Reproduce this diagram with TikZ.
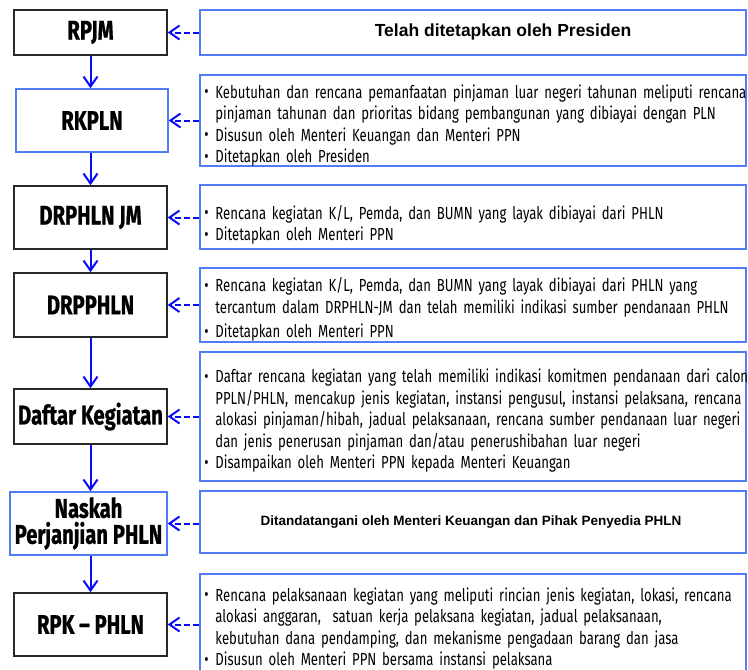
\documentclass[tikz,border=0pt]{standalone}
\usepackage{fontspec}
\setmainfont{Liberation Sans}
\newfontfamily\agf[FakeStretch=0.75,BoldFeatures={FakeBold=0.8}]{Fira Sans}
\usetikzlibrary{arrows.meta}
\definecolor{arrblue}{RGB}{10,10,250}
\definecolor{boxblue}{RGB}{80,125,245}
\definecolor{boxblack}{RGB}{40,40,40}
\newcommand\bitem[1]{\par\noindent\hangindent=11pt\hangafter=1\makebox[11pt][l]{\raisebox{0.5pt}{\textbullet}}#1}
\begin{document}
\begin{tikzpicture}[x=1pt,y=-1pt,
 lbox/.style={draw=boxblack,line width=1.5pt,minimum width=153pt,inner sep=0pt,align=center,font=\agf\bfseries\fontsize{27}{26}\selectfont},
 lblue/.style={lbox,draw=boxblue},
 rbox/.style={draw=boxblue,line width=1.5pt,minimum width=546pt,inner sep=0pt},
 txt/.style={anchor=west,text width=560pt,align=left,inner sep=0pt,font=\agf\fontsize{17.5}{21.5}\selectfont},
 flow/.style={draw=arrblue,line width=2pt,-{Straight Barb[length=10pt,width=14pt]}},
 dflow/.style={flow,dash pattern=on 6pt off 3pt}]
\useasboundingbox (0,0) rectangle (748,670);
\clip (0,0) rectangle (748,670);
% left boxes
\node[lbox, minimum height=45pt] (rpjm) at (90.5,32.5) {RPJM};
\node[lblue, minimum width=152pt, minimum height=63pt] (rkpln) at (92,120.5) {RKPLN};
\node[lbox, minimum height=63pt] (drphln) at (90.5,217.5) {DRPHLN JM};
\node[lbox, minimum height=64pt] (drpphln) at (90.5,305) {DRPPHLN};
\node[lbox, minimum height=55pt] (daftar) at (90.5,416.5) {Daftar Kegiatan};
\node[lblue, minimum width=157pt, minimum height=63pt] (naskah) at (88.5,523.5) {Naskah\\Perjanjian PHLN};
\node[lbox, minimum height=63pt] (rpk) at (90.5,624.5) {RPK – PHLN};
% right boxes
\node[rbox, minimum height=45pt] (r1) at (473,32.5) {};
\node[rbox, minimum height=91pt] (r2) at (473,120.5) {};
\node[rbox, minimum height=64pt] (r3) at (473,217) {};
\node[rbox, minimum height=74pt] (r4) at (473,305) {};
\node[rbox, minimum height=129pt] (r5) at (473,416.5) {};
\node[rbox, minimum height=62pt] (r6) at (473,522) {};
\node[rbox, minimum height=101pt] (r7) at (473,624.5) {};
% texts
\node[font=\bfseries\fontsize{17.5}{20}\selectfont, inner sep=0pt] (t1) at ([xshift=30pt,yshift=1pt]r1.center) {Telah ditetapkan oleh Presiden};
\node[font=\bfseries\fontsize{13.5}{16}\selectfont, inner sep=0pt] (t6) at ([xshift=-2pt]r6.center) {Ditandatangani oleh Menteri Keuangan dan Pihak Penyedia PHLN};
\node[txt] (t2) at ([xshift=5pt,yshift=-1pt]r2.west) {%
\bitem{Kebutuhan dan rencana pemanfaatan pinjaman luar negeri tahunan meliputi rencana\newline pinjaman tahunan dan prioritas bidang pembangunan yang dibiayai dengan PLN}
\bitem{Disusun oleh Menteri Keuangan dan Menteri PPN}
\bitem{Ditetapkan oleh Presiden}};
\node[txt] (t3) at ([xshift=5pt,yshift=-4pt]r3.west) {%
\bitem{Rencana kegiatan K/L, Pemda, dan BUMN yang layak dibiayai dari PHLN}
\bitem{Ditetapkan oleh Menteri PPN}};
\node[txt] (t4) at ([xshift=5pt,yshift=-1pt]r4.west) {%
\bitem{Rencana kegiatan K/L, Pemda, dan BUMN yang layak dibiayai dari PHLN yang\newline tercantum dalam DRPHLN-JM dan telah memiliki indikasi sumber pendanaan PHLN}\par\vspace{3pt}
\bitem{Ditetapkan oleh Menteri PPN}};
\node[txt] (t5) at ([xshift=5pt,yshift=-0.5pt]r5.west) {%
\bitem{Daftar rencana kegiatan yang telah memiliki indikasi komitmen pendanaan dari calon\newline PPLN/PHLN, mencakup jenis kegiatan, instansi pengusul, instansi pelaksana, rencana\newline alokasi pinjaman/hibah, jadual pelaksanaan, rencana sumber pendanaan luar negeri\newline dan jenis penerusan pinjaman dan/atau penerushibahan luar negeri}
\bitem{Disampaikan oleh Menteri PPN kepada Menteri Keuangan}};
\node[txt] (t7) at ([xshift=5pt,yshift=0pt]r7.west) {%
\bitem{Rencana pelaksanaan kegiatan yang meliputi rincian jenis kegiatan, lokasi, rencana\newline alokasi anggaran,\ \ satuan kerja pelaksana kegiatan, jadual pelaksanaan,\newline kebutuhan dana pendamping, dan mekanisme pengadaan barang dan jasa}
\bitem{Disusun oleh Menteri PPN bersama instansi pelaksana}};
% vertical flow
\draw[flow] (rpjm.south) -- (rpjm.south |- rkpln.north);
\draw[flow] (rpjm.south |- rkpln.south) -- (rpjm.south |- drphln.north);
\draw[flow] (drphln.south) -- (drpphln.north);
\draw[flow] (drpphln.south) -- (daftar.north);
\draw[flow] (daftar.south) -- (daftar.south |- naskah.north);
\draw[flow] (daftar.south |- naskah.south) -- (rpk.north);
% dashed links
\draw[dflow] (rpjm.east -| r1.west) -- (rpjm.east);
\draw[dflow] (rkpln.east -| r2.west) -- (rkpln.east);
\draw[dflow] (drphln.east -| r3.west) -- (drphln.east);
\draw[dflow] (drpphln.east -| r4.west) -- (drpphln.east);
\draw[dflow] (daftar.east -| r5.west) -- (daftar.east);
\draw[dflow] (naskah.east -| r6.west) -- (naskah.east);
\draw[dflow] (rpk.east -| r7.west) -- (rpk.east);
\end{tikzpicture}
\end{document}
